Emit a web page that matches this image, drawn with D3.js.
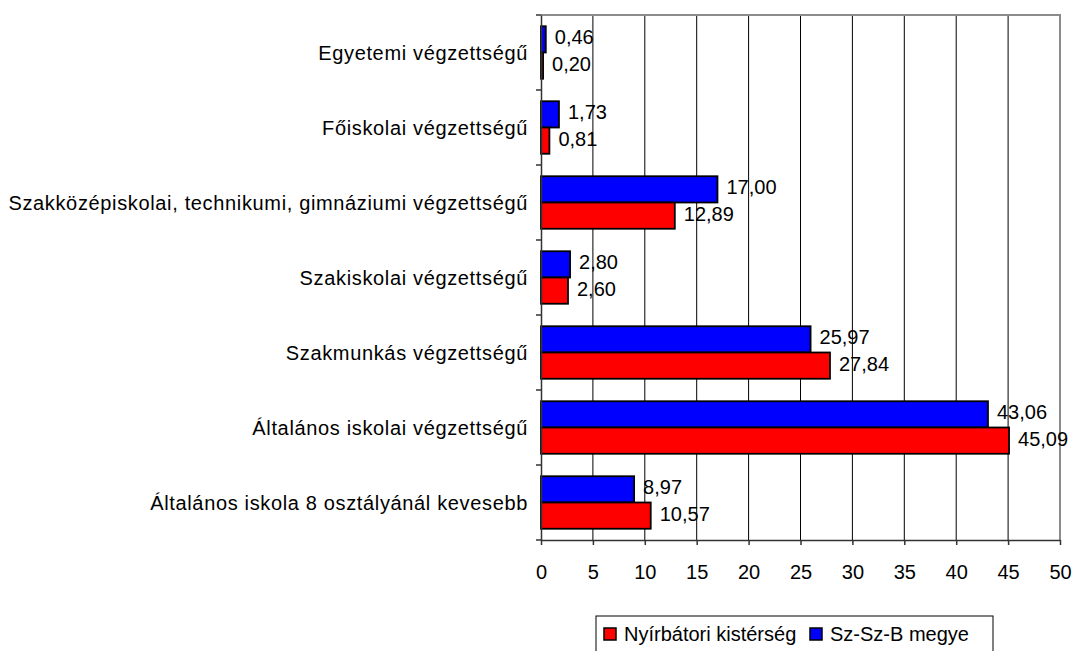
<!DOCTYPE html>
<html>
<head>
<meta charset="utf-8">
<script src="https://cdn.jsdelivr.net/npm/d3@7"></script>
<style>
  body { margin: 0; background: #fff; }
  text { font-family: 'Liberation Sans', Arial, sans-serif; }
</style>
</head>
<body>
<div id="chart"></div>
<script>
var categories = ['Egyetemi végzettségű',
                  'Főiskolai végzettségű',
                  'Szakközépiskolai, technikumi, gimnáziumi végzettségű',
                  'Szakiskolai végzettségű',
                  'Szakmunkás végzettségű',
                  'Általános iskolai végzettségű',
                  'Általános iskola 8 osztályánál kevesebb'];
var megyeValues = [0.46, 1.73, 17.00, 2.80, 25.97, 43.06, 8.97];
var kistersegValues = [0.20, 0.81, 12.89, 2.60, 27.84, 45.09, 10.57];
var xTicks = [0, 5, 10, 15, 20, 25, 30, 35, 40, 45, 50];
var seriesNames = ['Nyírbátori kistérség', 'Sz-Sz-B megye'];

var width = 1074;
var height = 651;
var plot = {left: 541, right: 1060, top: 15, bottom: 540};
var fontSize = 20;

var svg = d3.select('#chart').append('svg')
            .attr('width', width)
            .attr('height', height);

var x = d3.scaleLinear()
          .domain([0, 50])
          .range([plot.left, plot.right]);

var y = d3.scaleBand()
          .domain(categories)
          .range([plot.top, plot.bottom])
          .paddingInner(0.3)
          .paddingOuter(0.15);

// blue (megye) on top, red (kisterseg) below
var sub = d3.scaleBand()
            .domain(['megye', 'kisterseg'])
            .range([0, y.bandwidth()]);

var colors = {megye: '#0000ff', kisterseg: '#ff0000'};

// gridlines
svg.append('g').attr('class', 'grid')
   .selectAll('line')
   .data(xTicks.filter(function(d) { return d > 0 && d < 50; }))
   .enter().append('line')
   .attr('x1', function(d) { return x(d); })
   .attr('x2', function(d) { return x(d); })
   .attr('y1', plot.top)
   .attr('y2', plot.bottom)
   .attr('stroke', '#000')
   .attr('stroke-width', 1);

// top and right border
svg.append('path')
   .attr('d', 'M' + plot.left + ',' + plot.top + 'H' + plot.right + 'V' + plot.bottom)
   .attr('fill', 'none')
   .attr('stroke', '#8c8c8c')
   .attr('stroke-width', 2);

var rows = [];
categories.forEach(function(c, i) {
  rows.push({cat: c, key: 'megye', value: megyeValues[i]});
  rows.push({cat: c, key: 'kisterseg', value: kistersegValues[i]});
});

svg.append('g').attr('class', 'bars')
   .selectAll('rect')
   .data(rows)
   .enter().append('rect')
   .attr('x', x(0))
   .attr('y', function(d) { return y(d.cat) + sub(d.key); })
   .attr('width', function(d) { return x(d.value) - x(0); })
   .attr('height', sub.bandwidth())
   .attr('fill', function(d) { return colors[d.key]; })
   .attr('stroke', '#000')
   .attr('stroke-width', 1.8);

var fmt = function(v) { return v.toFixed(2).replace('.', ','); };

svg.append('g').attr('class', 'labels')
   .selectAll('text')
   .data(rows)
   .enter().append('text')
   .attr('x', function(d) { return x(d.value) + 9; })
   .attr('y', function(d) { return y(d.cat) + sub(d.key) + sub.bandwidth() / 2 - 2; })
   .attr('dy', '0.35em')
   .attr('font-size', fontSize)
   .attr('fill', '#000')
   .text(function(d) { return fmt(d.value); });

// axes
var yAxis = d3.axisLeft(y).tickSize(0).tickFormat('');
var yAxisG = svg.append('g')
                .attr('transform', 'translate(' + plot.left + ',0)')
                .call(yAxis);
yAxisG.select('.domain').attr('stroke', '#333').attr('stroke-width', 1.5);

// category boundary ticks on the y axis
var bounds = categories.map(function(c) { return y(c) - y.step() * 0.15; });
bounds.push(plot.bottom);
svg.append('g').selectAll('line')
   .data(bounds)
   .enter().append('line')
   .attr('x1', plot.left - 5)
   .attr('x2', plot.left)
   .attr('y1', function(d) { return d; })
   .attr('y2', function(d) { return d; })
   .attr('stroke', '#333')
   .attr('stroke-width', 1.5);

svg.append('g').selectAll('text')
   .data(categories)
   .enter().append('text')
   .attr('x', 528)
   .attr('y', function(d) { return y(d) + y.bandwidth() / 2; })
   .attr('dy', '0.35em')
   .attr('text-anchor', 'end')
   .attr('font-size', fontSize)
   .attr('letter-spacing', 0.65)
   .attr('fill', '#000')
   .text(function(d) { return d; });

var xAxis = d3.axisBottom(x)
              .tickValues(xTicks)
              .tickSizeInner(5)
              .tickSizeOuter(0)
              .tickPadding(20)
              .tickFormat(d3.format('d'));
var xAxisG = svg.append('g')
                .attr('transform', 'translate(0,' + plot.bottom + ')')
                .call(xAxis);
xAxisG.select('.domain').attr('stroke', '#333').attr('stroke-width', 1.5);
xAxisG.selectAll('.tick line').attr('stroke', '#333').attr('stroke-width', 1.5);
xAxisG.selectAll('.tick text')
      .attr('font-size', fontSize)
      .attr('font-family', "'Liberation Sans', Arial, sans-serif")
      .attr('fill', '#000');

// legend
var legend = svg.append('g').attr('class', 'legend');
legend.append('rect')
      .attr('x', 596)
      .attr('y', 616)
      .attr('width', 397)
      .attr('height', 50)
      .attr('fill', '#fff')
      .attr('stroke', '#000')
      .attr('stroke-width', 1);

var legendItems = [{name: seriesNames[0], color: colors.kisterseg, x: 604},
                   {name: seriesNames[1], color: colors.megye, x: 810}];
var li = legend.selectAll('g.item')
               .data(legendItems)
               .enter().append('g')
               .attr('class', 'item')
               .attr('transform', function(d) { return 'translate(' + d.x + ',634)'; });
li.append('rect')
  .attr('x', 0)
  .attr('y', -6)
  .attr('width', 12)
  .attr('height', 12)
  .attr('fill', function(d) { return d.color; })
  .attr('stroke', '#000')
  .attr('stroke-width', 1.5);
li.append('text')
  .attr('x', 20)
  .attr('y', 0)
  .attr('dy', '0.35em')
  .attr('font-size', fontSize)
  .attr('fill', '#000')
  .text(function(d) { return d.name; });
</script>
</body>
</html>
